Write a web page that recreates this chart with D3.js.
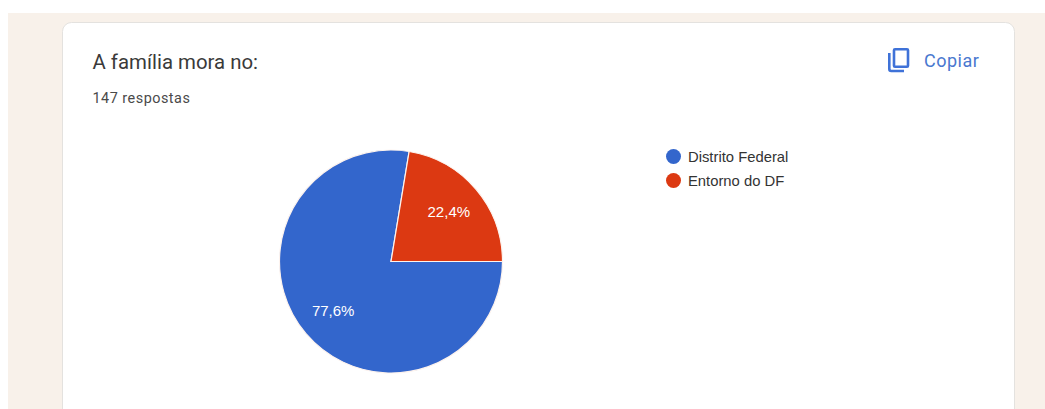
<!DOCTYPE html>
<html lang="pt">
<head>
<meta charset="utf-8">
<script src="https://cdn.jsdelivr.net/npm/d3@7"></script>
<style>
html, body { margin: 0; padding: 0; background: #fff; overflow: hidden; }
svg { display: block; }
text { font-family: Roboto, "Liberation Sans", sans-serif; }
</style>
</head>
<body>
<div id="chart"></div>
<script>
const categories = ["Distrito Federal", "Entorno do DF"];
const shares = [77.6, 22.4];
const sliceColors = ["#3366cc", "#dc3912"];
const titleText = "A família mora no:";
const subtitleText = "147 respostas";
const copyText = "Copiar";

const width = 1045, height = 409;
const svg = d3.select("#chart").append("svg")
  .attr("width", width).attr("height", height);

// Page band and response card
svg.append("rect").attr("x", 8).attr("y", 13)
  .attr("width", width - 8).attr("height", height - 13).attr("fill", "#f8f1ea");
svg.append("rect").attr("x", 62.5).attr("y", 22.5)
  .attr("width", 952).attr("height", 420).attr("rx", 9)
  .attr("fill", "#fff").attr("stroke", "#e4e2df");

// Card heading
svg.append("text").attr("x", 92.5).attr("y", 68.5)
  .attr("font-size", 20.4).attr("fill", "#3a3a3a").text(titleText);
svg.append("text").attr("x", 92.5).attr("y", 102.5)
  .attr("font-size", 14.4).attr("letter-spacing", 0.5).attr("fill", "#4a4a4a").text(subtitleText);

// Copy button: two nested outlines and label
const copyIcon = svg.append("g").attr("fill", "none").attr("stroke", "#3f72d8").attr("stroke-width", 2.6);
copyIcon.append("rect").attr("x", 894).attr("y", 49.3).attr("width", 14).attr("height", 17.5).attr("rx", 1);
copyIcon.append("path").attr("d", "M889.3 53V69a2 2 0 0 0 2 2H904");
svg.append("text").attr("x", 924).attr("y", 66.5)
  .attr("font-size", 18).attr("letter-spacing", 0.5).attr("fill", "#4a78cf").text(copyText);

// Pie, starting at three o'clock and running clockwise
const cx = 391, cy = 261.5, radius = 111.5;
const pie = d3.pie().sort(null)
  .startAngle(Math.PI / 2).endAngle(Math.PI / 2 + 2 * Math.PI);
const arc = d3.arc().innerRadius(0).outerRadius(radius);
const arcs = pie(shares);

const pieGroup = svg.append("g").attr("transform", `translate(${cx},${cy})`);
pieGroup.selectAll("path").data(arcs).join("path")
  .attr("d", arc)
  .attr("fill", (d, i) => sliceColors[i])
  .attr("stroke", "#fdf3ee").attr("stroke-width", 1.2);

// Percentage labels sit at two thirds of the radius on each slice's bisector
const labelRadius = radius * 0.68;
const formatShare = v => v.toFixed(1).replace(".", ",") + "%";
pieGroup.selectAll("text").data(arcs).join("text")
  .attr("x", d => Math.sin((d.startAngle + d.endAngle) / 2) * labelRadius)
  .attr("y", d => -Math.cos((d.startAngle + d.endAngle) / 2) * labelRadius + 5)
  .attr("text-anchor", "middle")
  .style("font-family", "'Liberation Sans', Arial, sans-serif")
  .attr("font-size", 15).attr("fill", "#fff")
  .text(d => formatShare(d.data));

// Legend
const legendY = d3.scalePoint().domain(categories).range([156.5, 180.5]);
const legend = svg.selectAll("g.legend").data(categories).join("g")
  .attr("class", "legend")
  .attr("transform", d => `translate(673.5,${legendY(d)})`);
legend.append("circle").attr("r", 7.5)
  .attr("fill", (d, i) => sliceColors[i]);
legend.append("text").attr("x", 14.5).attr("y", 5)
  .style("font-family", "'Liberation Sans', Arial, sans-serif")
  .attr("font-size", 14.8).attr("fill", "#333").text(d => d);
</script>
</body>
</html>
